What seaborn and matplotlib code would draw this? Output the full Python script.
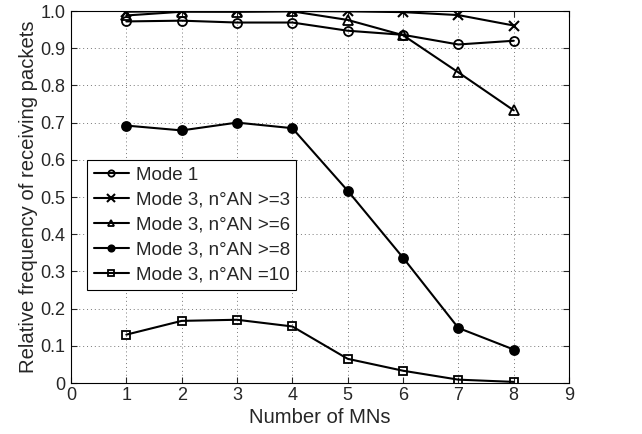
import matplotlib
matplotlib.use("Agg")
import matplotlib.pyplot as plt
import seaborn as sns
import pandas as pd

mns = [1, 2, 3, 4, 5, 6, 7, 8]
mode1 = [0.972, 0.974, 0.969, 0.969, 0.947, 0.936, 0.910, 0.920]
an3 = [0.998, 1.000, 0.999, 1.000, 0.999, 0.997, 0.989, 0.961]
an6 = [0.988, 0.998, 0.998, 0.999, 0.976, 0.935, 0.835, 0.733]
an8 = [0.692, 0.679, 0.700, 0.685, 0.517, 0.337, 0.148, 0.090]
an10 = [0.130, 0.167, 0.170, 0.152, 0.065, 0.033, 0.009, 0.003]

labels = ["Mode 1", "Mode 3, n°AN >=3", "Mode 3, n°AN >=6",
          "Mode 3, n°AN >=8", "Mode 3, n°AN =10"]
series = [mode1, an3, an6, an8, an10]

sns.set_style("ticks")
plt.rcParams['font.family'] = ['Liberation Sans', 'DejaVu Sans']

fig = plt.figure(figsize=(6.42, 4.34), dpi=100)
ax = fig.add_axes([71/642, 1 - 383/434, 498/642, 372/434])

styles = [
    dict(marker="o", markerfacecolor="none", markersize=6.5),
    dict(marker="x", markersize=7.5, markeredgewidth=1.5),
    dict(marker="^", markerfacecolor="none", markersize=7),
    dict(marker="o", markerfacecolor="black", markersize=6.5),
    dict(marker="s", markerfacecolor="none", markersize=6),
]

for lab, vals, st in zip(labels, series, styles):
    df = pd.DataFrame({"x": mns, "y": vals})
    sns.lineplot(data=df, x="x", y="y", ax=ax, color="black", linewidth=1.5,
                 markeredgecolor="black", markeredgewidth=st.pop("markeredgewidth", 1.3),
                 label=lab, **st)

ax.set_xlim(0, 9)
ax.set_ylim(0, 1.0)
ax.set_xticks(range(0, 10))
yt = [i / 10 for i in range(11)]
ax.set_yticks(yt)
ax.set_yticklabels(["0"] + [f"{v:.1f}" for v in yt[1:]])
ax.grid(True, linestyle=(0, (1, 3)), color="#777777", linewidth=0.7)
ax.tick_params(direction="in", labelsize=13, length=4, top=True, right=True)
ax.tick_params(axis="x", pad=3)
ax.tick_params(axis="y", pad=4)
for s in ax.spines.values():
    s.set_color("black")
    s.set_linewidth(0.8)
ax.set_xlabel("Number of MNs", fontsize=14.6, labelpad=3)
ax.set_ylabel("Relative frequency of receiving packets", fontsize=14.6, labelpad=2)

leg = ax.legend(loc="upper left", bbox_to_anchor=(16/498, (383 - 160) / 372),
                fontsize=13.5, frameon=True, fancybox=False, edgecolor="black",
                framealpha=1, borderpad=0.35, labelspacing=0.42, markerscale=0.7,
                handlelength=1.9, handletextpad=0.35, borderaxespad=0)
leg.get_frame().set_linewidth(0.8)

fig.savefig("out.png", dpi=100)
